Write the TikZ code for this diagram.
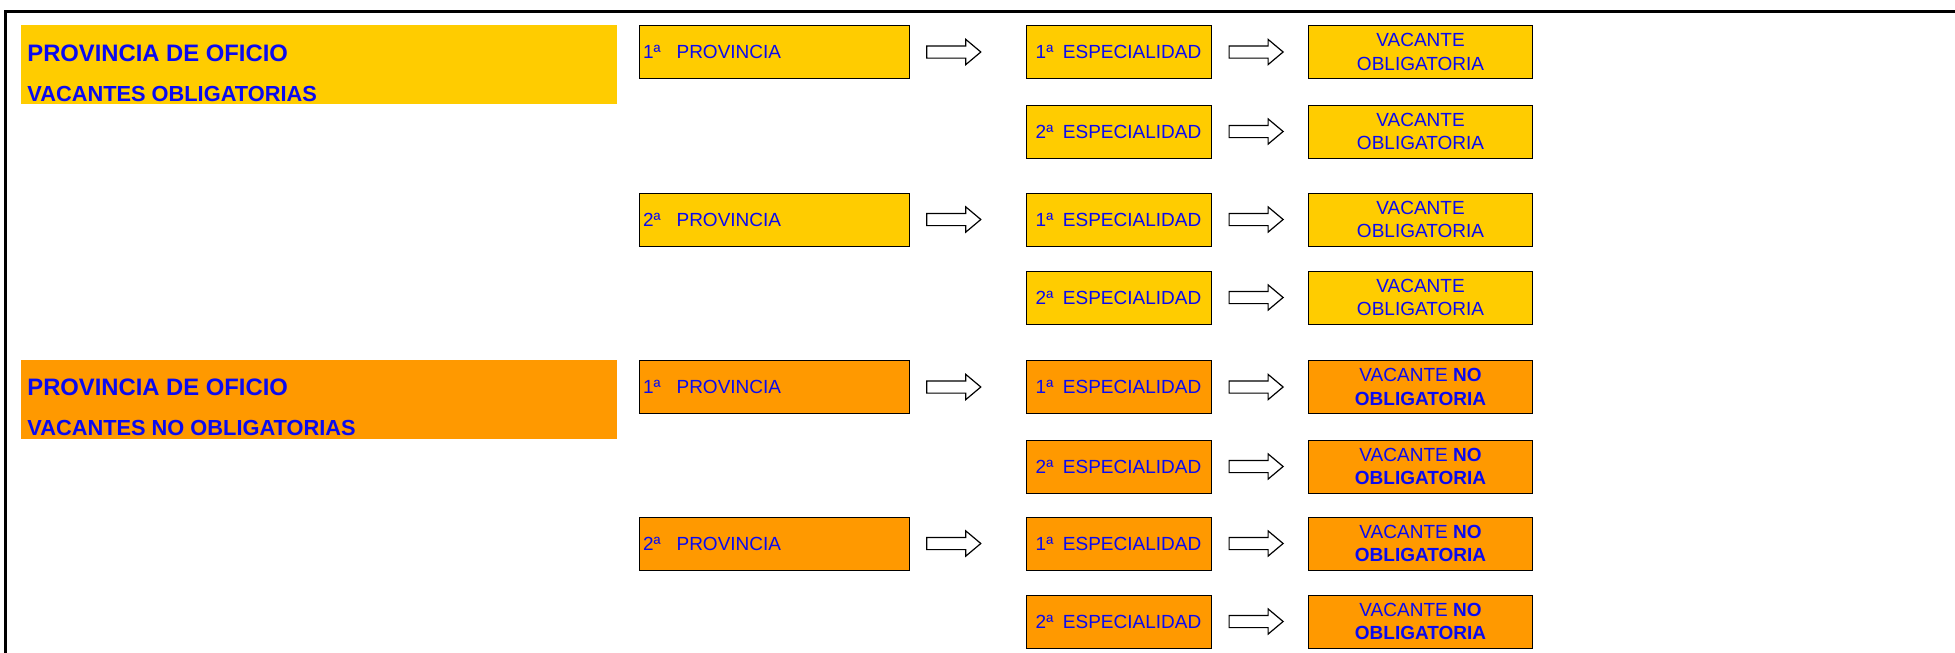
\documentclass[tikz,border=0pt]{standalone}
\usepackage{fontspec}
\setmainfont{Liberation Sans}
\usepackage{tikz}
\usetikzlibrary{positioning,shapes}
\definecolor{oro}{HTML}{FFCC00}
\definecolor{naranja}{HTML}{FF9900}
\definecolor{azul}{HTML}{0A0AF0}
\tikzset{
  caja/.style={draw, line width=0.5pt, text=azul, minimum height=26.5pt, inner sep=2pt,
    font=\fontsize{9.5}{11.7}\selectfont},
  prov/.style={caja, minimum width=135pt, text width=131pt, align=left},
  espec/.style={caja, minimum width=92.5pt},
  vac/.style={caja, minimum width=112pt, align=center},
  cabecera/.style={minimum width=298pt, minimum height=39.5pt, inner sep=0pt},
  titulo/.style={anchor=base west, inner sep=0pt, text=azul, font=\bfseries\fontsize{11.9}{13}\selectfont},
  subtitulo/.style={titulo, font=\bfseries\fontsize{10.9}{13}\selectfont},
  flecha/.style={single arrow, draw, fill=white, line width=0.6pt, minimum height=27pt,
    inner sep=2.75pt, single arrow head extend=3.25pt, single arrow tip angle=80}
}
\newcommand{\obl}{VACANTE\\OBLIGATORIA}
\newcommand{\noobl}{VACANTE \textbf{NO}\\\textbf{OBLIGATORIA}}

\begin{document}
\begin{tikzpicture}[x=0.5pt, y=-0.5pt]
    \useasboundingbox (0,0) rectangle (1955,653);
    \draw[line width=1.5pt] (5,670) |- (1970,11.3);

    % vacantes obligatorias
    \node[cabecera, fill=oro] (h1) at (319,64.65) {};
    \node[titulo] (h1a) at ([shift={(6.4,36.5)}]h1.north west) {PROVINCIA DE OFICIO};
    \node[subtitulo] (h1b) at ([shift={(6.4,76.5)}]h1.north west) {VACANTES OBLIGATORIAS};

    \node[espec, fill=oro] (e1) at (1118.5,52) {1ª\hspace{4.8pt}ESPECIALIDAD};
    \node[espec, fill=oro] (e2) at (1118.5,131.5) {2ª\hspace{4.8pt}ESPECIALIDAD};
    \node[espec, fill=oro] (e3) at (1118.5,219.5) {1ª\hspace{4.8pt}ESPECIALIDAD};
    \node[espec, fill=oro] (e4) at (1118.5,297.5) {2ª\hspace{4.8pt}ESPECIALIDAD};
    \node[prov, fill=oro, left=58pt of e1] (p1) {1ª\hspace{8pt}PROVINCIA};
    \node[prov, fill=oro, left=58pt of e3] (p2) {2ª\hspace{8pt}PROVINCIA};
    \node[vac, fill=oro, right=48.25pt of e1] (v1) {\obl};
    \node[vac, fill=oro, right=48.25pt of e2] (v2) {\obl};
    \node[vac, fill=oro, right=48.25pt of e3] (v3) {\obl};
    \node[vac, fill=oro, right=48.25pt of e4] (v4) {\obl};

    % vacantes no obligatorias
    \node[cabecera, fill=naranja] (h2) at (319,399.65) {};
    \node[titulo] (h2a) at ([shift={(6.4,35.5)}]h2.north west) {PROVINCIA DE OFICIO};
    \node[subtitulo] (h2b) at ([shift={(6.4,75.5)}]h2.north west) {VACANTES NO OBLIGATORIAS};

    \node[espec, fill=naranja] (e5) at (1118.5,387) {1ª\hspace{4.8pt}ESPECIALIDAD};
    \node[espec, fill=naranja] (e6) at (1118.5,466.5) {2ª\hspace{4.8pt}ESPECIALIDAD};
    \node[espec, fill=naranja] (e7) at (1118.5,543.5) {1ª\hspace{4.8pt}ESPECIALIDAD};
    \node[espec, fill=naranja] (e8) at (1118.5,621.5) {2ª\hspace{4.8pt}ESPECIALIDAD};
    \node[prov, fill=naranja, left=58pt of e5] (p3) {1ª\hspace{8pt}PROVINCIA};
    \node[prov, fill=naranja, left=58pt of e7] (p4) {2ª\hspace{8pt}PROVINCIA};
    \node[vac, fill=naranja, right=48.25pt of e5] (v5) {\noobl};
    \node[vac, fill=naranja, right=48.25pt of e6] (v6) {\noobl};
    \node[vac, fill=naranja, right=48.25pt of e7] (v7) {\noobl};
    \node[vac, fill=naranja, right=48.25pt of e8] (v8) {\noobl};

    % flechas
    \node[flecha, right=8.35pt of p1] (f1) {};
    \node[flecha, right=8.35pt of p2] (f2) {};
    \node[flecha, right=8.35pt of p3] (f3) {};
    \node[flecha, right=8.35pt of p4] (f4) {};
    \node[flecha, right=8.5pt of e1] (g1) {};
    \node[flecha, right=8.5pt of e2] (g2) {};
    \node[flecha, right=8.5pt of e3] (g3) {};
    \node[flecha, right=8.5pt of e4] (g4) {};
    \node[flecha, right=8.5pt of e5] (g5) {};
    \node[flecha, right=8.5pt of e6] (g6) {};
    \node[flecha, right=8.5pt of e7] (g7) {};
    \node[flecha, right=8.5pt of e8] (g8) {};
\end{tikzpicture}
\end{document}
